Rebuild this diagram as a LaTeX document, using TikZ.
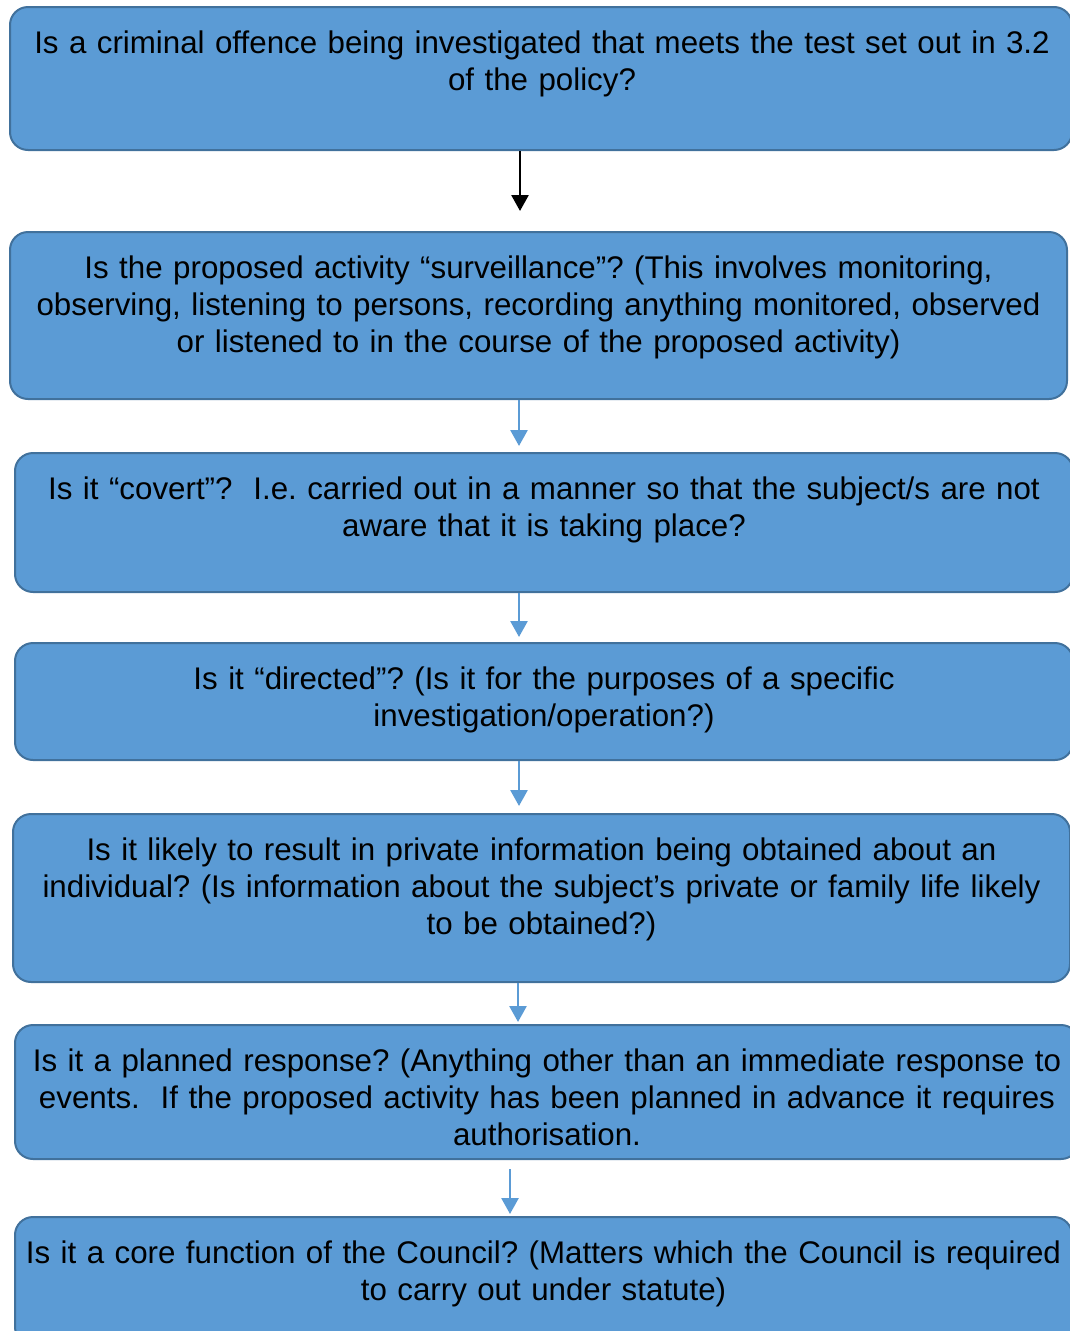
\documentclass[tikz,border=0pt]{standalone}
\usepackage{fontspec}
\setmainfont{Liberation Sans}
\usetikzlibrary{arrows.meta}
\definecolor{boxfill}{HTML}{5B9BD5}
\definecolor{boxline}{HTML}{41719C}
\newcommand\qRound{18pt}
\newcommand\qFont{\fontsize{31.3pt}{37pt}\selectfont\frenchspacing}
\tikzstyle{qbox} = [rectangle, rounded corners=\qRound, draw=boxline, fill=boxfill, line width=2pt]
\tikzstyle{qtext} = [anchor=base, text width=1064pt, align=center, inner sep=0pt, font=\qFont]
\tikzstyle{arrow} = [line width=2.7pt, -{Triangle[width=17pt,length=16pt]}, draw=boxfill]

\begin{document}
\begin{tikzpicture}[x=1pt, y=-1pt]
\useasboundingbox (0,0) rectangle (1070,1331);
\node (q1) [qbox, minimum width=1062pt, minimum height=143pt] at (541,78.5) {};
\node (q2) [qbox, minimum width=1057pt, minimum height=167pt] at (538.5,315.5) {};
\node (q3) [qbox, minimum width=1058pt, minimum height=139pt] at (544,522.5) {};
\node (q4) [qbox, minimum width=1058pt, minimum height=117pt] at (544,701.5) {};
\node (q5) [qbox, minimum width=1057pt, minimum height=168pt] at (541.5,898) {};
\node (q6) [qbox, minimum width=1064pt, minimum height=134pt] at (547,1092) {};
\node (q7) [qbox, minimum width=1057pt, minimum height=128pt] at (543.5,1281) {};

\node (t1) [qtext] at (542,53) {Is a criminal offence being investigated that meets the test set out in 3.2\\of the policy?};
\node (t2) [qtext] at (538.5,278) {Is the proposed activity “surveillance”? (This involves monitoring,\\observing, listening to persons, recording anything monitored, observed\\or listened to in the course of the proposed activity)};
\node (t3) [qtext] at (544,499) {Is it “covert”?\ \ I.e. carried out in a manner so that the subject/s are not\\aware that it is taking place?};
\node (t4) [qtext] at (544,689) {Is it “directed”? (Is it for the purposes of a specific\\investigation/operation?)};
\node (t5) [qtext] at (541.5,860) {Is it likely to result in private information being obtained about an\\individual? (Is information about the subject’s private or family life likely\\to be obtained?)};
\node (t6) [qtext] at (547,1071) {Is it a planned response? (Anything other than an immediate response to\\events.\ \ If the proposed activity has been planned in advance it requires\\authorisation.};
\node (t7) [qtext] at (543.5,1263) {Is it a core function of the Council? (Matters which the Council is required\\to carry out under statute)};

\coordinate (c1) at (520,0);
\coordinate (c2) at (519,0);
\coordinate (c5) at (518,0);
\coordinate (c6) at (510,0);
\draw [arrow, draw=black, shorten >=20pt] (q1.south -| c1) -- (q2.north -| c1);
\draw [arrow, shorten >=6pt] (q2.south -| c2) -- (q3.north -| c2);
\draw [arrow, shorten >=5pt] (q3.south -| c2) -- (q4.north -| c2);
\draw [arrow, shorten >=7pt] (q4.south -| c2) -- (q5.north -| c2);
\draw [arrow, shorten >=2pt] (q5.south -| c5) -- (q6.north -| c5);
\draw [arrow, shorten <=9pt, shorten >=2pt] (q6.south -| c6) -- (q7.north -| c6);
\end{tikzpicture}
\end{document}
